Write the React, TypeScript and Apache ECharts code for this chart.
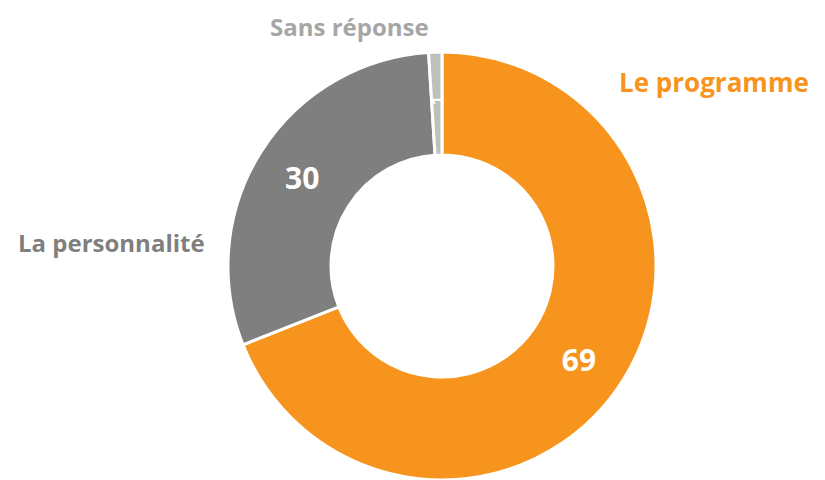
import React, { useEffect, useRef } from "react";
import * as echarts from "echarts";

const categories = ["Le programme", "Sans réponse", "La personnalité"];
const values = [69, 1, 30];
const sliceColors = ["#F7941D", "#BFBFBF", "#7F7F7F"];
const nameColors = ["#F7941D", "#A6A6A6", "#7F7F7F"];
// data order in ECharts is clockwise from top: programme, personnalité, sans réponse
const order = [0, 2, 1];
const namePositions = [
  { x: 619, y: 82, size: 26 },
  { x: 270, y: 26, size: 24 },
  { x: 18, y: 242, size: 24 },
];

export default function App() {
  const ref = useRef<HTMLDivElement>(null);
  useEffect(() => {
    const chart = echarts.init(ref.current!, undefined, { renderer: "svg" });
    const data = order.map((i) => ({
      name: categories[i],
      value: values[i],
      itemStyle: { color: sliceColors[i] },
      label:
        values[i] < 5
          ? { fontSize: 16, rotate: 90 }
          : { fontSize: 30 },
    }));
    chart.setOption({
      animation: false,
      backgroundColor: "#ffffff",
      series: [
        {
          type: "pie",
          center: [442, 266],
          radius: [111, 214],
          startAngle: 90,
          clockwise: true,
          silent: true,
          itemStyle: { borderColor: "#ffffff", borderWidth: 3 },
          label: {
            show: true,
            position: "inside",
            formatter: "{c}",
            color: "#ffffff",
            fontFamily: "Open Sans",
            fontWeight: "bold",
          },
          labelLine: { show: false },
          data,
        },
      ],
      graphic: categories.map((c, i) => ({
        type: "text",
        x: namePositions[i].x,
        y: namePositions[i].y,
        style: {
          text: c,
          fill: nameColors[i],
          font: `bold ${namePositions[i].size}px 'Open Sans'`,
          textAlign: "left",
          textVerticalAlign: "middle",
        },
      })),
    });
    return () => chart.dispose();
  }, []);
  return (
    <div
      ref={ref}
      style={{ position: "fixed", left: 0, top: 0, width: 825, height: 480 }}
    />
  );
}
